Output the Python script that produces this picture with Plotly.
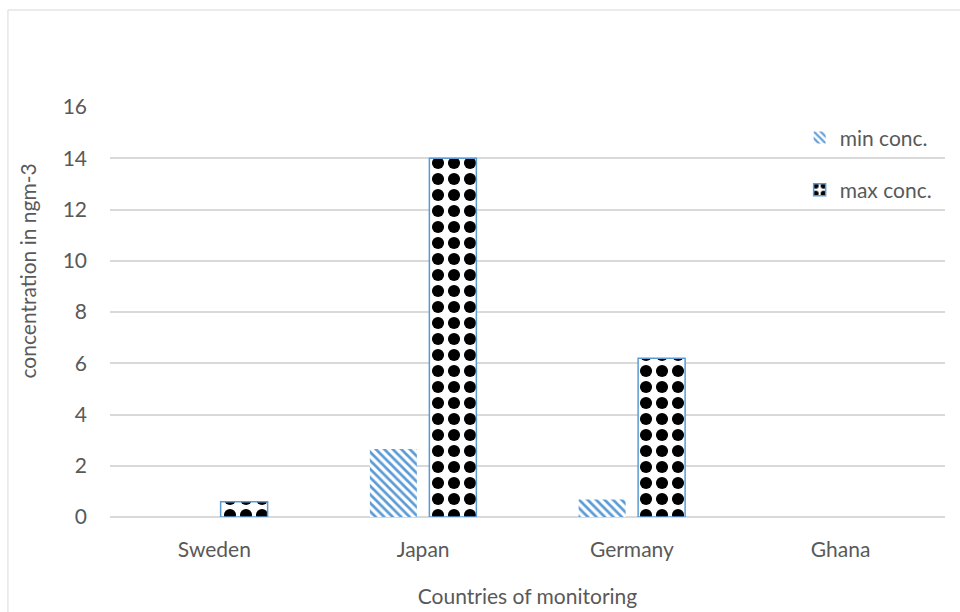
import plotly.graph_objects as go

# Monitoring data (ng/m3)
countries = ["Sweden", "Japan", "Germany", "Ghana"]
min_conc = [0, 2.65, 0.68, None]
max_conc = [0.6, 14.0, 6.2, None]
y_ticks = [0, 2, 4, 6, 8, 10, 12, 14, 16]

BLUE = "#5b9bd5"
TEXT = "#595959"
GRID = "#d9d9d9"
FONT = "Lato, Open Sans, sans-serif"
FS = 21

fig = go.Figure()

fig.add_trace(go.Bar(
    name="min conc.",
    x=countries,
    y=min_conc,
    legendgroup="min",
    marker=dict(
        color="white",
        line=dict(width=0),
        pattern=dict(shape="\\", fgcolor=BLUE, bgcolor="white",
                     size=6, solidity=0.45, fillmode="replace"),
    ),
))

fig.add_trace(go.Bar(
    name="max conc.",
    x=countries,
    y=max_conc,
    legendgroup="max",
    marker=dict(
        color="white",
        line=dict(width=1.5, color=BLUE),
        pattern=dict(shape=".", fgcolor="black", bgcolor="white",
                     size=16, solidity=0.45, fillmode="replace"),
    ),
))

# light outer frame of the chart area
fig.add_shape(type="line", xref="paper", yref="paper",
              x0=-0.1222, x1=1.2, y0=1.2366, y1=1.2366,
              line=dict(color=GRID, width=1))
fig.add_shape(type="line", xref="paper", yref="paper",
              x0=-0.1222, x1=-0.1222, y0=1.2366, y1=-0.4,
              line=dict(color=GRID, width=1))

# vertical axis title, placed as a rotated annotation
fig.add_annotation(
    text="concentration in ngm-3",
    xref="paper", yref="paper",
    x=-0.1, y=0.6,
    xanchor="center", yanchor="middle",
    textangle=-90,
    showarrow=False,
    font=dict(family=FONT, size=FS, color=TEXT),
)

fig.update_layout(
    width=960,
    height=612,
    margin=dict(l=110, r=15, t=107, b=95, autoexpand=False),
    paper_bgcolor="white",
    plot_bgcolor="white",
    font=dict(family=FONT, size=FS, color=TEXT),
    barmode="group",
    bargap=0.43,
    bargroupgap=0.21,
    showlegend=True,
    legend=dict(
        x=0.99, xanchor="right",
        y=0.975, yanchor="top",
        bgcolor="rgba(0,0,0,0)",
        font=dict(family=FONT, size=FS, color=TEXT),
        traceorder="grouped",
        tracegroupgap=22,
        itemwidth=30,
    ),
    xaxis=dict(
        title=dict(text="Countries of monitoring", standoff=29,
                   font=dict(family=FONT, size=FS, color=TEXT)),
        automargin=False,
        showgrid=False,
        showline=False,
        ticks="",
        ticklabelstandoff=18,
        tickfont=dict(family=FONT, size=FS, color=TEXT),
    ),
    yaxis=dict(
        range=[0, 16],
        automargin=False,
        tickvals=y_ticks,
        ticktext=[str(v) for v in y_ticks],
        showgrid=True,
        gridcolor=GRID,
        gridwidth=1.5,
        zeroline=True,
        zerolinecolor=GRID,
        zerolinewidth=1.5,
        showline=False,
        ticks="",
        ticklabelstandoff=22,
        tickfont=dict(family=FONT, size=FS, color=TEXT),
    ),
)

fig.write_html("out.html")
